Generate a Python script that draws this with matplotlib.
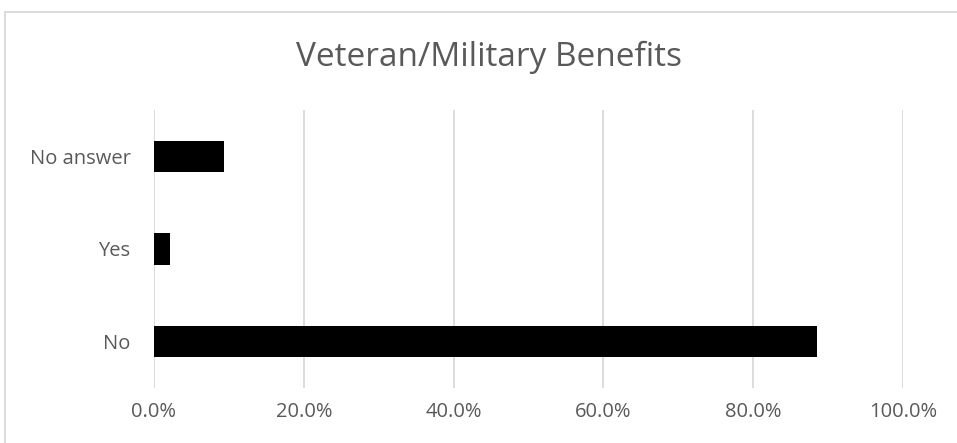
import matplotlib.pyplot as plt
from matplotlib.lines import Line2D
from matplotlib.ticker import PercentFormatter

categories = ["No", "Yes", "No answer"]
values = [88.5, 2.1, 9.3]

plt.rcParams['font.family'] = ['Open Sans', 'DejaVu Sans']
W, H = 957, 443
fig = plt.figure(figsize=(W / 100, H / 100), dpi=100)
ax = fig.add_axes([154 / W, 1 - 388 / H, (903 - 154) / W, (388 - 110) / H])

ax.barh(range(len(categories)), values, height=0.34, color='black', zorder=3)
ax.set_yticks(range(len(categories)))
ax.set_yticklabels(categories)
ax.set_ylim(-0.5, 2.5)
ax.set_xlim(0, 100)
ax.set_xticks([0, 20, 40, 60, 80, 100])
ax.xaxis.set_major_formatter(PercentFormatter(decimals=1))
ax.grid(axis='x', color='#d9d9d9', linewidth=1.3, zorder=0)
for s in ax.spines.values():
    s.set_visible(False)
ax.tick_params(length=0, labelsize=14.5, labelcolor='#595959')
ax.tick_params(axis='x', pad=10)
ax.tick_params(axis='y', pad=17)

fig.text(489 / W, 1 - 57 / H, "Veteran/Military Benefits", ha='center', va='center',
         fontsize=24, color='#595959')

# chart border (only top and left visible in the crop)
fig.add_artist(Line2D([4.5 / W, 1], [1 - 12 / H, 1 - 12 / H], color='#d9d9d9', linewidth=1.3))
fig.add_artist(Line2D([4.5 / W, 4.5 / W], [0, 1 - 12 / H], color='#d9d9d9', linewidth=1.3))

fig.savefig('out.png', dpi=100)
